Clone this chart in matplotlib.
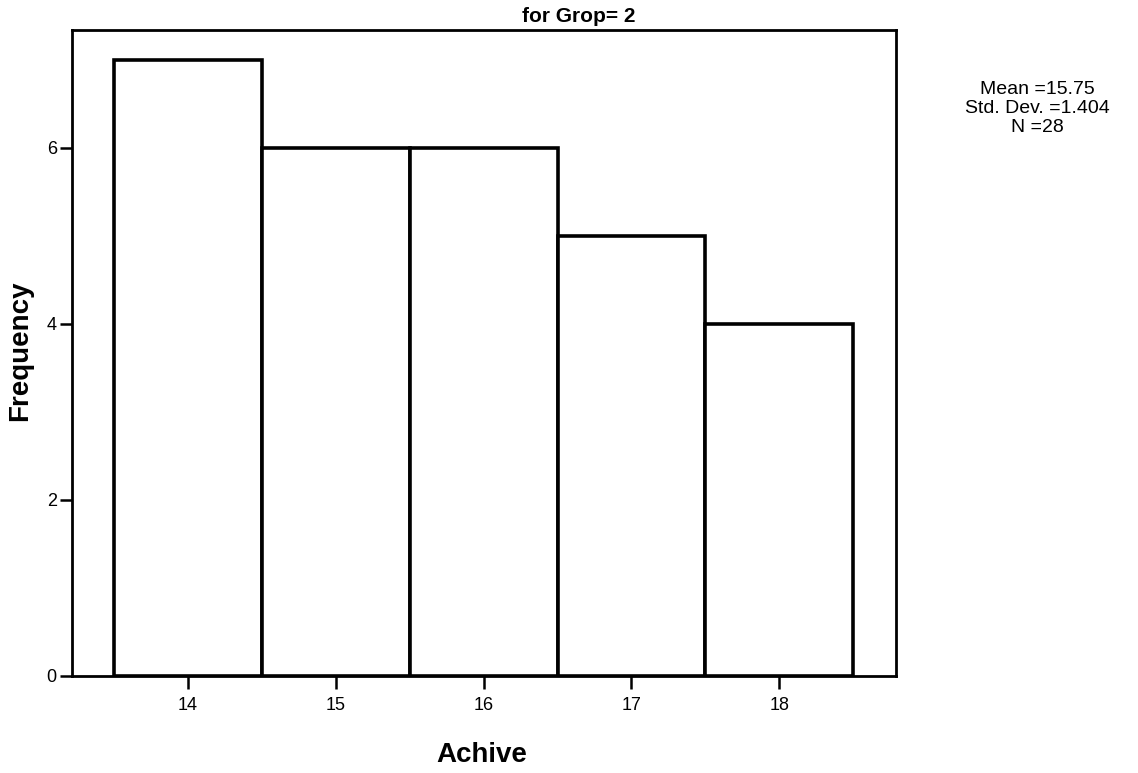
import matplotlib
matplotlib.use("Agg")
import matplotlib.pyplot as plt

# Histogram of Achive scores for Grop = 2
bin_centers = [14, 15, 16, 17, 18]
frequencies = [7, 6, 6, 5, 4]
y_ticks = [0, 2, 4, 6]
x_ticks = [14, 15, 16, 17, 18]
title_text = "for Grop= 2"
stats_lines = ["Mean =15.75", "Std. Dev. =1.404", "N =28"]

plt.rcParams['font.family'] = ['Liberation Sans', 'DejaVu Sans']

fig = plt.figure(figsize=(11.38, 7.73), dpi=100)
ax = fig.add_axes([0.0633, 0.1255, 0.724, 0.8357])

ax.bar(bin_centers, frequencies, width=1.0, color='white',
       edgecolor='black', linewidth=2.6, zorder=3)

ax.set_xlim(13.215, 18.79)
ax.set_ylim(0, 7.34)
ax.set_xticks(x_ticks)
ax.set_yticks(y_ticks)
ax.tick_params(axis='both', direction='out', length=9, width=1.8,
               labelsize=13, colors='black')
ax.tick_params(axis='x', pad=6)
ax.tick_params(axis='y', pad=2)

for s in ax.spines.values():
    s.set_linewidth(2)
    s.set_color('black')

ax.set_xlabel("Achive", fontsize=20, fontweight='bold', va='baseline')
ax.xaxis.set_label_coords(0.497, -0.133)
ax.set_ylabel("Frequency", fontsize=20, fontweight='bold', va='center')
ax.yaxis.set_label_coords(-0.0625, 0.503)

fig.text(0.509, 0.9715, title_text, ha='center', va='baseline',
         fontsize=15, fontweight='bold')

fig.text(0.912, 0.8595, "\n".join(stats_lines), ha='center', va='center',
         fontsize=14, linespacing=1.14)

fig.savefig("out.png", dpi=100, facecolor='white')
